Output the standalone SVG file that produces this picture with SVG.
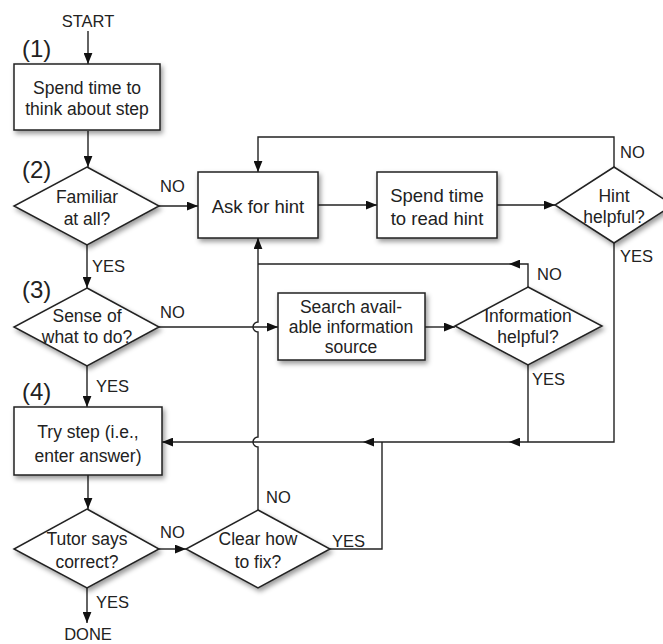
<svg xmlns="http://www.w3.org/2000/svg" width="663" height="644" viewBox="0 0 663 644">
<defs>
<filter id="sh" x="-20%" y="-20%" width="150%" height="160%">
<feDropShadow dx="2" dy="3" stdDeviation="2.5" flood-color="#000" flood-opacity="0.4"/>
</filter>
<marker id="ah" viewBox="0 0 10 8" refX="10" refY="4" markerWidth="11" markerHeight="9" markerUnits="userSpaceOnUse" orient="auto">
<path d="M0,0 L10,4 L0,8 z" fill="#111"/>
</marker>
</defs>
<style>
.n{fill:#fff;stroke:#222;stroke-width:1.5;filter:url(#sh)}
.t{font-family:"Liberation Sans",Arial,sans-serif;font-size:17.5px;fill:#222;text-anchor:middle}
.l{font-family:"Liberation Sans",Arial,sans-serif;font-size:16.5px;fill:#222}
.s{font-family:"Liberation Sans",Arial,sans-serif;font-size:24px;fill:#222}
.c{fill:none;stroke:#222;stroke-width:1.4}
.a{marker-end:url(#ah)}
</style>
<rect width="663" height="644" fill="#fff"/>
<g id="connectors">
<path class="c a" d="M88,31 V64"/>
<path class="c a" d="M88,131 V167"/>
<path class="c a" d="M159,206 H198"/>
<path class="c a" d="M318,205 H377"/>
<path class="c a" d="M497,205 H555"/>
<path class="c a" d="M614,167 V137 H258 V172"/>
<path class="c a" d="M614,243 V442 H509"/>
<path class="c" d="M528,365 V442"/>
<path class="c a" d="M509,442 H363"/>
<path class="c" d="M330,549 H382 V442"/>
<path class="c a" d="M363,442 H162"/>
<path class="c a" d="M87,245 V288"/>
<path class="c a" d="M159,327 H278"/>
<path class="c a" d="M425,327 H455"/>
<path class="c a" d="M528,287 V264 H509"/>
<path class="c" d="M509,264 H258"/>
<path class="c a" d="M258,510 V447 A5,5 0 0 1 258,437 V332 A5,5 0 0 1 258,322 V238"/>
<path class="c a" d="M87,366 V407"/>
<path class="c a" d="M88,475 V509"/>
<path class="c a" d="M159,549 H186"/>
<path class="c a" d="M87,588 V623"/>
</g>
<g id="start"><text class="l" x="88" y="27" text-anchor="middle">START</text></g>
<g id="n1">
<rect class="n" x="14" y="64" width="146" height="66"/>
<text class="t" x="87" y="94">Spend time to</text>
<text class="t" x="87" y="115">think about step</text>
<text class="s" x="22" y="57">(1)</text>
</g>
<g id="n2">
<polygon class="n" points="87,167 159,206 87,245 14,206"/>
<text class="t" x="87" y="203">Familiar</text>
<text class="t" x="87" y="225">at all?</text>
<text class="s" x="22" y="178">(2)</text>
</g>
<g id="ask">
<rect class="n" x="198" y="172" width="120" height="66"/>
<text class="t" x="258" y="213" style="font-size:18.5px">Ask for hint</text>
</g>
<g id="read">
<rect class="n" x="377" y="172" width="120" height="66"/>
<text class="t" x="437" y="202" style="font-size:18.5px">Spend time</text>
<text class="t" x="437" y="225" style="font-size:18.5px">to read hint</text>
</g>
<g id="hint">
<polygon class="n" points="614,167 673,205 614,243 555,205"/>
<text class="t" x="614" y="202">Hint</text>
<text class="t" x="614" y="223">helpful?</text>
</g>
<g id="n3">
<polygon class="n" points="87,288 159,327 87,366 14,327"/>
<text class="t" x="87" y="322">Sense of</text>
<text class="t" x="87" y="343">what to do?</text>
<text class="s" x="22" y="298">(3)</text>
</g>
<g id="search">
<rect class="n" x="278" y="293" width="147" height="67"/>
<text class="t" x="351" y="313">Search avail-</text>
<text class="t" x="351" y="333">able information</text>
<text class="t" x="351" y="353">source</text>
</g>
<g id="info">
<polygon class="n" points="528,287 602,326 528,365 455,326"/>
<text class="t" x="528" y="322">Information</text>
<text class="t" x="528" y="343">helpful?</text>
</g>
<g id="n4">
<rect class="n" x="14" y="407" width="148" height="68"/>
<text class="t" x="88" y="438">Try step (i.e.,</text>
<text class="t" x="88" y="462">enter answer)</text>
<text class="s" x="22" y="400">(4)</text>
</g>
<g id="tutor">
<polygon class="n" points="87,509 159,549 87,588 14,549"/>
<text class="t" x="87" y="545">Tutor says</text>
<text class="t" x="87" y="568">correct?</text>
</g>
<g id="clear">
<polygon class="n" points="258,510 330,549 258,588 186,549"/>
<text class="t" x="258" y="545">Clear how</text>
<text class="t" x="258" y="568">to fix?</text>
</g>
<g id="done"><text class="l" x="88" y="640" text-anchor="middle">DONE</text></g>
<g id="labels">
<text class="l" x="160" y="192">NO</text>
<text class="l" x="620" y="158">NO</text>
<text class="l" x="620" y="262">YES</text>
<text class="l" x="92" y="272">YES</text>
<text class="l" x="160" y="318">NO</text>
<text class="l" x="537" y="280">NO</text>
<text class="l" x="532" y="385">YES</text>
<text class="l" x="96" y="392">YES</text>
<text class="l" x="160" y="538">NO</text>
<text class="l" x="266" y="503">NO</text>
<text class="l" x="332" y="547">YES</text>
<text class="l" x="96" y="608">YES</text>
</g>
</svg>
